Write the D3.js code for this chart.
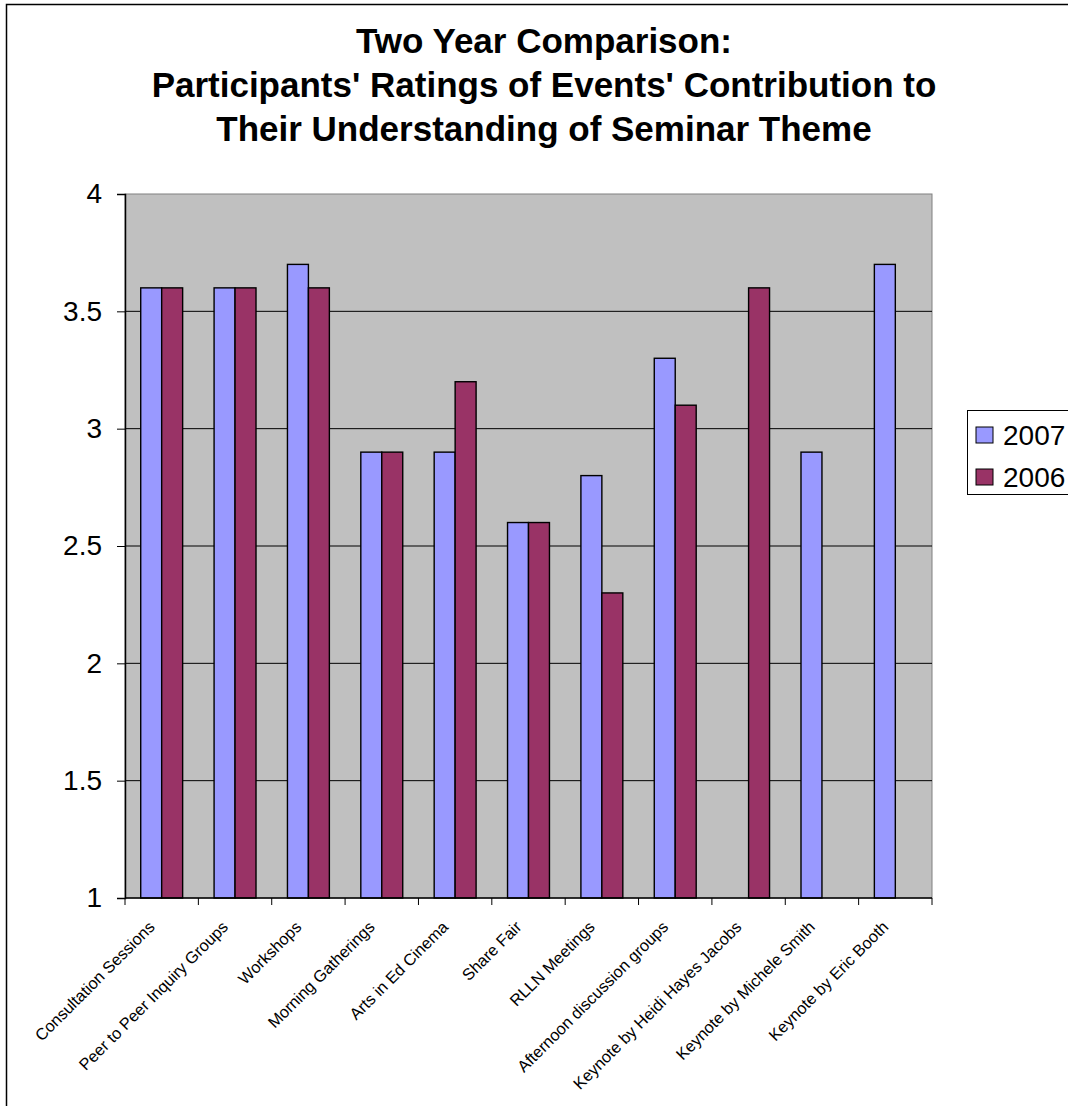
<!DOCTYPE html>
<html>
<head>
<meta charset="utf-8">
<script src="https://cdn.jsdelivr.net/npm/d3@7"></script>
<style>
  body { margin: 0; background: #fff; }
  svg { display: block; font-family: Arial, "Liberation Sans", sans-serif; }
</style>
</head>
<body>
<div id="chart"></div>
<script>
// data
const events = ["Consultation Sessions", "Peer to Peer Inquiry Groups", "Workshops",
  "Morning Gatherings", "Arts in Ed Cinema", "Share Fair", "RLLN Meetings",
  "Afternoon discussion groups", "Keynote by Heidi Hayes Jacobs",
  "Keynote by Michele Smith", "Keynote by Eric Booth"];
const years = ["2007", "2006"];
const ratings2007 = [3.6, 3.6, 3.7, 2.9, 2.9, 2.6, 2.8, 3.3, null, 2.9, 3.7];
const ratings2006 = [3.6, 3.6, 3.6, 2.9, 3.2, 2.6, 2.3, 3.1, 3.6, null, null];
const yTicks = [1, 1.5, 2, 2.5, 3, 3.5, 4];
const titleLines = ["Two Year Comparison:",
  "Participants' Ratings of Events' Contribution to",
  "Their Understanding of Seminar Theme"];
const colors = ["#9999FF", "#993366"];

const W = 1068, H = 1106;
const pLeft = 125, pRight = 932, pTop = 194, pBottom = 898;

const svg = d3.select("#chart").append("svg")
  .attr("width", W).attr("height", H);

// outer frame (runs off the right and bottom edge)
svg.append("rect")
  .attr("x", 6.5).attr("y", 4.5)
  .attr("width", 1200).attr("height", 1300)
  .attr("fill", "#fff").attr("stroke", "#000").attr("stroke-width", 1.5);

// title
svg.append("g").selectAll("text").data(titleLines).enter().append("text")
  .attr("x", 544)
  .attr("y", (d, i) => 53 + i * 44)
  .attr("text-anchor", "middle")
  .attr("font-weight", "bold")
  .attr("font-size", 35)
  .text(d => d);

const x = d3.scaleBand().domain(events).range([pLeft, pRight]);
const x1 = d3.scaleBand().domain(years).range([0, x.bandwidth() * 2 / 3.5]);
const y = d3.scaleLinear().domain([1, 4]).range([pBottom, pTop]);

// plot area
svg.append("rect")
  .attr("x", pLeft).attr("y", pTop)
  .attr("width", pRight - pLeft).attr("height", pBottom - pTop)
  .attr("fill", "#C0C0C0").attr("stroke", "#808080");

// gridlines
svg.append("g").selectAll("line").data(yTicks.filter(t => t > 1 && t < 4)).enter()
  .append("line")
  .attr("x1", pLeft).attr("x2", pRight)
  .attr("y1", d => y(d)).attr("y2", d => y(d))
  .attr("stroke", "#000").attr("stroke-width", 1);

// bars
const rows = events.map((e, i) => ({ event: e, values: [ratings2007[i], ratings2006[i]] }));
const offset = (x.bandwidth() - x1.range()[1]) / 2;

svg.append("g").selectAll("g").data(rows).enter().append("g")
  .attr("transform", d => `translate(${x(d.event) + offset},0)`)
  .selectAll("rect")
  .data(d => d.values.map((v, j) => ({ year: years[j], value: v, c: colors[j] })).filter(b => b.value != null))
  .enter().append("rect")
  .attr("x", d => x1(d.year))
  .attr("y", d => y(d.value))
  .attr("width", x1.bandwidth())
  .attr("height", d => pBottom - y(d.value))
  .attr("fill", d => d.c)
  .attr("stroke", "#000").attr("stroke-width", 1.4);

// y axis
const yAxis = svg.append("g")
  .attr("transform", `translate(${pLeft},0)`)
  .call(d3.axisLeft(y).tickValues(yTicks).tickFormat(d3.format("")).tickSize(8).tickPadding(15));
yAxis.select(".domain").attr("stroke", "#000").attr("stroke-width", 1.5);
yAxis.selectAll(".tick line").attr("stroke", "#000");
yAxis.selectAll("text").attr("font-size", 28).attr("font-family", "Arial, 'Liberation Sans', sans-serif").attr("fill", "#000");

// x axis with ticks on category boundaries
const xAxis = svg.append("g")
  .attr("transform", `translate(0,${pBottom})`);
xAxis.append("line")
  .attr("x1", pLeft).attr("x2", pRight)
  .attr("stroke", "#000").attr("stroke-width", 1.5);
xAxis.selectAll(".tk").data(events.map(e => x(e)).concat([pRight])).enter()
  .append("line")
  .attr("x1", d => d).attr("x2", d => d)
  .attr("y1", 0).attr("y2", 7)
  .attr("stroke", "#000");
xAxis.selectAll("text").data(events).enter().append("text")
  .attr("transform", d => `translate(${x(d) + x.bandwidth() / 2 - 6},30) rotate(-45)`)
  .attr("text-anchor", "end")
  .attr("font-size", 16.3)
  .text(d => d);

// legend
const legend = svg.append("g").attr("transform", "translate(967,410)");
legend.append("rect")
  .attr("x", 0.5).attr("y", 0.5).attr("width", 200).attr("height", 84)
  .attr("fill", "#fff").attr("stroke", "#000");
const item = legend.selectAll(".item").data(years).enter().append("g")
  .attr("transform", (d, i) => `translate(9,${17 + i * 42})`);
item.append("rect")
  .attr("width", 17).attr("height", 16)
  .attr("fill", (d, i) => colors[i]).attr("stroke", "#000");
item.append("text")
  .attr("x", 27).attr("y", 18)
  .attr("font-size", 28)
  .text(d => d);
</script>
</body>
</html>
